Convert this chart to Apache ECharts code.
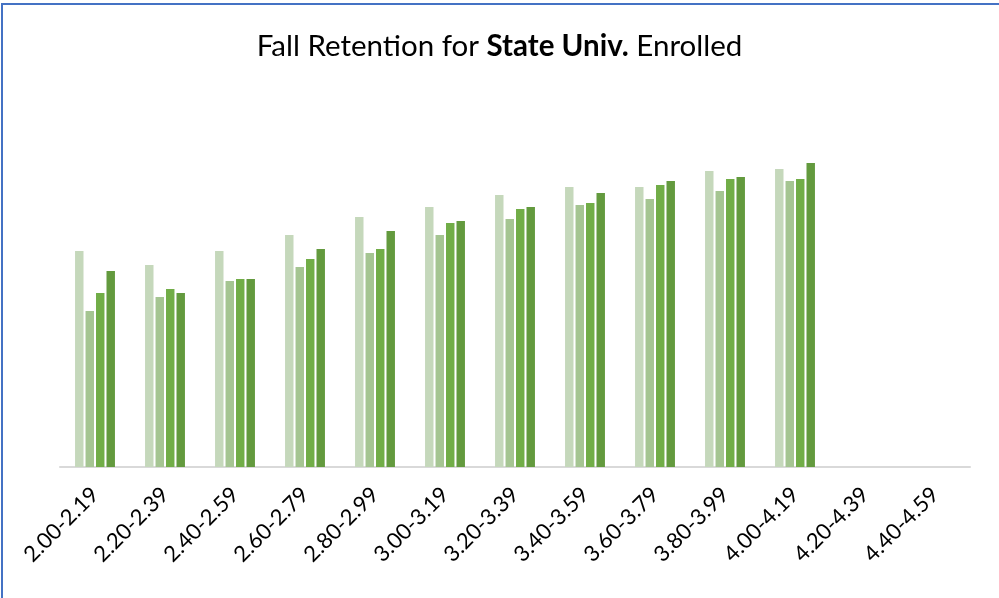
<!DOCTYPE html>
<html>
<head>
<meta charset="utf-8">
<script src="https://cdn.jsdelivr.net/npm/echarts@6/dist/echarts.min.js"></script>
<style>
  html, body { margin: 0; padding: 0; background: #fff; }
  #chart { width: 999px; height: 598px; }
</style>
</head>
<body>
<div id="chart"></div>
<script>
// GPA bands along the x axis
const gpaBands = ['2.00-2.19', '2.20-2.39', '2.40-2.59', '2.60-2.79', '2.80-2.99',
  '3.00-3.19', '3.20-3.39', '3.40-3.59', '3.60-3.79', '3.80-3.99',
  '4.00-4.19', '4.20-4.39', '4.40-4.59'];

// Fall retention (%) per cohort, one value per GPA band
const cohortA = [54, 50.5, 54, 58, 62.5, 65, 68, 70, 70, 74, 74.5, null, null];
const cohortB = [39, 42.5, 46.5, 50, 53.5, 58, 62, 65.5, 67, 69, 71.5, null, null];
const cohortC = [43.5, 44.5, 47, 52, 54.5, 61, 64.5, 66, 70.5, 72, 72, null, null];
const cohortD = [49, 43.5, 47, 54.5, 59, 61.5, 65, 68.5, 71.5, 72.5, 76, null, null];

const cohortNames = ['Cohort A', 'Cohort B', 'Cohort C', 'Cohort D'];
const cohortColors = ['#C5D8BB', '#A5C592', '#71AD47', '#639A3E'];

const chart = echarts.init(document.getElementById('chart'));

const series = [cohortA, cohortB, cohortC, cohortD].map((vals, i) => ({
  name: cohortNames[i],
  type: 'bar',
  data: vals,
  barGap: '24%',
  barCategoryGap: '43%',
  itemStyle: { color: cohortColors[i] }
}));

chart.setOption({
  animation: false,
  backgroundColor: '#fff',
  title: {
    text: '{n|Fall Retention for }{b|State Univ.}{n| Enrolled}',
    left: 'center',
    top: 26,
    textStyle: {
      fontWeight: 'normal',
      rich: {
        n: { fontFamily: 'Lato', fontSize: 29.5, fontWeight: 'normal', color: '#000' },
        b: { fontFamily: 'Lato', fontSize: 29.5, fontWeight: 'bold', color: '#000' }
      }
    }
  },
  grid: { left: 60, right: 29, top: 67, bottom: 131, containLabel: false },
  xAxis: {
    type: 'category',
    data: gpaBands,
    axisLine: { show: true, lineStyle: { color: '#D9D9D9', width: 2 } },
    axisTick: { show: false },
    axisLabel: {
      rotate: 45,
      interval: 0,
      margin: 24,
      fontFamily: 'Lato',
      fontSize: 22,
      color: '#000'
    }
  },
  yAxis: {
    type: 'value',
    min: 0,
    max: 100,
    show: false,
    splitLine: { show: false }
  },
  graphic: [{
    type: 'polyline',
    shape: { points: [[2, 598], [2, 4], [999, 4]] },
    style: { stroke: '#4472C4', lineWidth: 2, fill: null }
  }],
  series: series
});
</script>
</body>
</html>
